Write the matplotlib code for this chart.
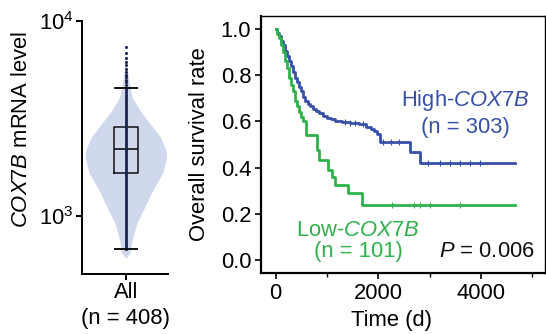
import numpy as np
import matplotlib
matplotlib.use('Agg')
import matplotlib.pyplot as plt
from matplotlib.ticker import FixedLocator, NullLocator, FormatStrFormatter

plt.rcParams['font.family'] = ['Liberation Sans', 'DejaVu Sans']
plt.rcParams['mathtext.fontset'] = 'custom'
plt.rcParams['mathtext.rm'] = 'Liberation Sans'
plt.rcParams['mathtext.it'] = 'Liberation Sans:italic'
plt.rcParams['mathtext.bf'] = 'Liberation Sans:bold'

# ---- violin / box data (COX7B mRNA level, n = 408) ----
violinLog10 = [2.785, 2.810, 2.877, 2.964, 3.046, 3.133, 3.221, 3.303,
               3.338, 3.405, 3.477, 3.544, 3.610, 3.697, 3.774, 3.867]
violinDensity = [0.0, 0.10, 0.15, 0.27, 0.46, 0.66, 0.90, 1.0,
                 0.98, 0.85, 0.58, 0.34, 0.15, 0.07, 0.02, 0.0]
boxStats = {'q1': 1662, 'med': 2207, 'q3': 2860, 'whislo': 678, 'whishi': 4530}
outliers = [4700, 4850, 5000, 5150, 5300, 5500, 5700, 5950, 6200, 6500, 6850, 7360]

# ---- Kaplan-Meier data ----
highTime = [0, 30, 60, 100, 140, 180, 220, 260, 300, 340, 380, 420, 460, 500,
            540, 580, 620, 660, 720, 780, 850, 930, 1000, 1080, 1160, 1300,
            1450, 1620, 1760, 1850, 1920, 1980, 2030, 2615, 2810]
highSurv = [1.0, 0.985, 0.97, 0.95, 0.93, 0.905, 0.885, 0.86, 0.84, 0.815,
            0.79, 0.77, 0.75, 0.73, 0.705, 0.69, 0.675, 0.665, 0.655, 0.645,
            0.635, 0.625, 0.617, 0.61, 0.604, 0.598, 0.593, 0.589, 0.578,
            0.568, 0.558, 0.548, 0.512, 0.469, 0.421]
highEnd = 4660
highCensor = [1350, 1450, 1550, 1700, 2100, 2250, 2400, 2972, 3200, 3395, 3590, 3785, 3980]

lowTime = [0, 30, 60, 100, 140, 180, 220, 260, 300, 340, 380, 420, 460, 500,
           540, 590, 810, 850, 1025, 1090, 1155, 1415, 1675]
lowSurv = [1.0, 0.98, 0.96, 0.93, 0.9, 0.86, 0.83, 0.79, 0.76, 0.73, 0.69,
           0.665, 0.64, 0.62, 0.6, 0.541, 0.476, 0.433, 0.39, 0.361, 0.325,
           0.289, 0.238]
lowEnd = 4660
lowCensor = [2259, 2693, 2810, 3005, 3589]

blue = '#3750aa'
green = '#2db34a'
fs = 15.8

def stepValue(times, surv, t):
    idx = np.searchsorted(times, t, side='right') - 1
    return surv[idx]

fig = plt.figure(figsize=(5.46, 3.34), dpi=100)

# ================= left panel: violin =================
ax1 = fig.add_axes([0.1502, 0.1796, 0.1575, 0.7575])
vy = 10 ** np.array(violinLog10)
vw = np.array(violinDensity) / max(violinDensity) * 0.475
ax1.fill_betweenx(vy, -vw, vw, color='#d0d8ee', lw=0, zorder=1)

stats = dict(boxStats)
stats['fliers'] = []
ax1.bxp([stats], positions=[0], widths=0.28, capwidths=[0.26],
        showfliers=False, patch_artist=False,
        boxprops=dict(color='#111111', lw=1.1),
        medianprops=dict(color='#111111', lw=1.2),
        whiskerprops=dict(color='#1b2450', lw=2.0),
        capprops=dict(color='#111111', lw=1.4))
ax1.vlines(0, boxStats['q1'], boxStats['q3'], color='#1b2450', lw=2.0, zorder=3)
ax1.plot(np.zeros(len(outliers)), outliers, 'o', color='#1b2450', ms=2.2, mew=0, zorder=3)

ax1.set_yscale('log')
ax1.set_ylim(505, 10000)
ax1.set_xlim(-0.51, 0.49)
ax1.yaxis.set_major_locator(FixedLocator([1000, 10000]))
ax1.yaxis.set_minor_locator(NullLocator())
ax1.set_yticklabels(['$10^3$', '$10^4$'])
ax1.set_xticks([0])
ax1.set_xticklabels(['All\n(n = 408)'], linespacing=1.3)
for s in ['top', 'right']:
    ax1.spines[s].set_visible(False)
for s in ['left', 'bottom']:
    ax1.spines[s].set_linewidth(1.4)
ax1.tick_params(labelsize=fs, width=1.4, length=4, pad=2)
ax1.set_ylabel('$\\mathit{COX7B}$ mRNA level', fontsize=fs)
ax1.yaxis.set_label_coords(-0.58, 0.57)

# ================= right panel: KM =================
ax2 = fig.add_axes([0.478, 0.1826, 0.520, 0.769])
for times, surv, end, cens, col in [
        (highTime, highSurv, highEnd, highCensor, blue),
        (lowTime, lowSurv, lowEnd, lowCensor, green)]:
    ax2.step(times + [end], surv + [surv[-1]], where='post', color=col, lw=2.0)
    cy = [stepValue(np.array(times), surv, c) for c in cens]
    ax2.plot(cens, cy, '|', color=col, ms=4, mew=0.8)

ax2.set_xlim(-286, 5244)
ax2.set_ylim(-0.056, 1.056)
ax2.set_xticks([0, 2000, 4000])
ax2.set_xticks([1000, 3000, 5000], minor=True)
ax2.set_yticks([0.0, 0.2, 0.4, 0.6, 0.8, 1.0])
ax2.yaxis.set_major_formatter(FormatStrFormatter('%.1f'))
ax2.tick_params(labelsize=fs, width=1.2, length=4, pad=3)
ax2.tick_params(which='minor', width=1.0, length=3)
ax2.spines['left'].set_linewidth(1.6)
ax2.spines['bottom'].set_linewidth(1.6)
ax2.spines['top'].set_linewidth(1.0)
ax2.spines['right'].set_linewidth(1.0)
ax2.set_ylabel('Overall survival rate', fontsize=fs)
ax2.yaxis.set_label_coords(-0.18, 0.5)
ax2.set_xlabel('Time (d)', fontsize=fs)
ax2.xaxis.set_label_coords(0.46, -0.145)

ax2.text(3687, 0.693, 'High-$\\mathit{COX7B}$', color=blue, fontsize=fs,
         ha='center', va='center')
ax2.text(3687, 0.576, '(n = 303)', color=blue, fontsize=fs, ha='center', va='center')
ax2.text(1603, 0.13, 'Low-$\\mathit{COX7B}$', color=green, fontsize=fs,
         ha='center', va='center')
ax2.text(1603, 0.039, '(n = 101)', color=green, fontsize=fs, ha='center', va='center')
ax2.text(5049, 0.039, '$\\mathit{P}$ = 0.006', color='#111111', fontsize=fs,
         ha='right', va='center')

fig.savefig('out.png', dpi=100)
